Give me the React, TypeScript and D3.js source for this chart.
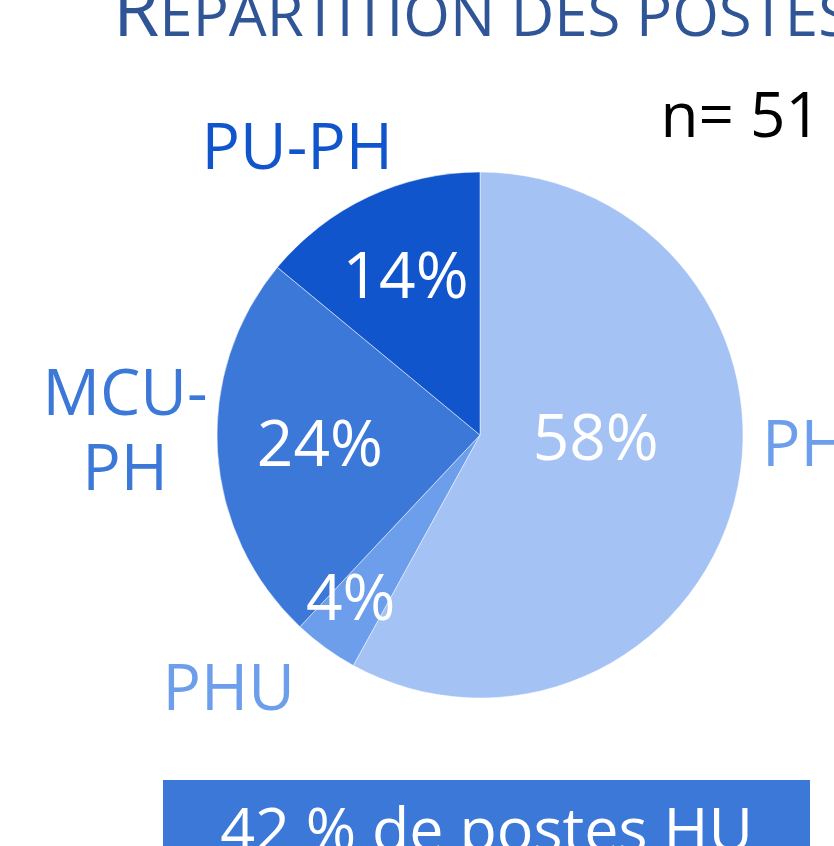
import React from 'react'
import * as d3 from 'd3'

// slice data (n = 51)
const categories = ['PH', 'PHU', 'MCU-PH', 'PU-PH']
const shares = [58, 4, 24, 14]
const sliceColors = ['#A4C2F4', '#6D9EEB', '#3C78D8', '#1155CC']
const labelColors = ['#6D9EEB', '#6D9EEB', '#3C78D8', '#1155CC']
const labelLines = [['PH'], ['PHU'], ['MCU-', 'PH'], ['PU-PH']]

const titleCap = 'R'
const titleRest = 'ÉPARTITION DES POSTES'
const countText = 'n= 51'
const bannerText = '42 % de postes HU'

// where Office dropped the labels: angle shift (deg) from the mid angle + radius
const innerPlacement = [[-13, 0.44], [2.5, 0.79], [0.4, 0.61], [0.2, 0.67]]
const outerPlacement = [[-12.8, 325], [8.9, 356], [4.4, 355], [-7.2, 341]]

const W = 834
const H = 846
const FONT = '"Open Sans", "Noto Sans", sans-serif'

export default function App() {
  React.useEffect(() => {
    document.body.style.margin = '0'
  }, [])

  const cx = 480
  const cy = 435
  const radius = 263

  const pie = d3.pie<number>().sort(null).value(d => d)
  const slices = pie(shares)
  const arc = d3.arc<d3.PieArcDatum<number>>().innerRadius(0).outerRadius(radius)

  const polar = (d: d3.PieArcDatum<number>, shiftDeg: number, r: number) => {
    const a = (d.startAngle + d.endAngle) / 2 + (shiftDeg * Math.PI) / 180
    return [r * Math.sin(a), -r * Math.cos(a)]
  }

  const fontSize = 64
  const lineGap = 75

  return (
    <svg width={W} height={H} style={{ display: 'block' }} fontFamily={FONT}>
      <rect width={W} height={H} fill="#fff" />

      <text x={113} y={36} fill="#2F5597">
        <tspan fontSize={75}>{titleCap}</tspan>
        <tspan fontSize={60}>{titleRest}</tspan>
      </text>

      <text x={821} y={137} fontSize={62} textAnchor="end" fill="#000">
        {countText}
      </text>

      <g transform={`translate(${cx},${cy})`}>
        {slices.map((d, i) => (
          <path
            key={categories[i]}
            d={arc(d) || ''}
            fill={sliceColors[i]}
            stroke="#fff"
            strokeOpacity={0.5}
            strokeWidth={1}
          />
        ))}
        {slices.map((d, i) => {
          const [x, y] = polar(d, innerPlacement[i][0], innerPlacement[i][1] * radius)
          return (
            <text
              key={'pct-' + i}
              x={x}
              y={y}
              dy="0.35em"
              textAnchor="middle"
              fontSize={fontSize}
              fill="#fff"
            >
              {shares[i] + '%'}
            </text>
          )
        })}
        {slices.map((d, i) => {
          const [x, y] = polar(d, outerPlacement[i][0], outerPlacement[i][1])
          const lines = labelLines[i]
          const top = y - ((lines.length - 1) * lineGap) / 2
          return (
            <text
              key={'lab-' + i}
              textAnchor="middle"
              fontSize={fontSize}
              fill={labelColors[i]}
            >
              {lines.map((ln, j) => (
                <tspan key={j} x={x} y={top + j * lineGap} dy="0.35em">
                  {ln}
                </tspan>
              ))}
            </text>
          )
        })}
      </g>

      <rect x={163} y={780} width={647} height={H - 780} fill="#3C78D8" />
      <text x={486.5} y={851} textAnchor="middle" fontSize={61} fill="#fff">
        {bannerText}
      </text>
    </svg>
  )
}
